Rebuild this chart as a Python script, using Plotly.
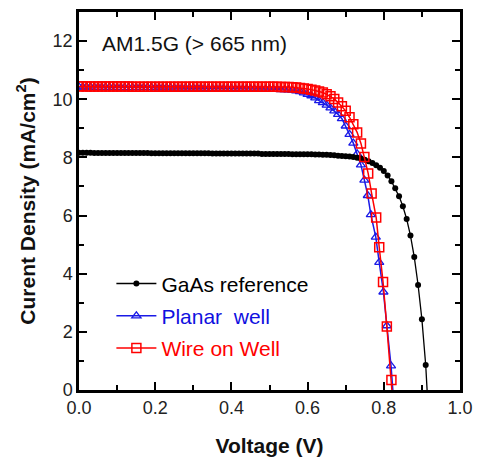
import plotly.graph_objects as go

# GaAs reference cell
v_ref = [0.00, 0.01, 0.02, 0.03, 0.04, 0.05, 0.06, 0.07, 0.08, 0.09,
         0.10, 0.11, 0.12, 0.13, 0.14, 0.15, 0.16, 0.17, 0.18, 0.19,
         0.20, 0.21, 0.22, 0.23, 0.24, 0.25, 0.26, 0.27, 0.28, 0.29,
         0.30, 0.31, 0.32, 0.33, 0.34, 0.35, 0.36, 0.37, 0.38, 0.39,
         0.40, 0.41, 0.42, 0.43, 0.44, 0.45, 0.46, 0.47, 0.48, 0.49,
         0.50, 0.51, 0.52, 0.53, 0.54, 0.55, 0.56, 0.57, 0.58, 0.59,
         0.60, 0.61, 0.62, 0.63, 0.64, 0.65, 0.66, 0.67, 0.68, 0.69,
         0.70, 0.71, 0.72, 0.73, 0.74, 0.75, 0.76, 0.77, 0.78, 0.79,
         0.80, 0.81, 0.82, 0.83, 0.84, 0.85, 0.86, 0.87, 0.88, 0.89,
         0.90, 0.91, 0.92]
j_ref = [8.16, 8.16, 8.16, 8.16, 8.15, 8.15, 8.15, 8.15, 8.15, 8.15,
         8.15, 8.15, 8.15, 8.15, 8.15, 8.15, 8.15, 8.15, 8.15, 8.14,
         8.14, 8.14, 8.14, 8.14, 8.14, 8.14, 8.14, 8.14, 8.14, 8.14,
         8.14, 8.14, 8.14, 8.14, 8.14, 8.13, 8.13, 8.13, 8.13, 8.13,
         8.13, 8.13, 8.13, 8.13, 8.13, 8.13, 8.13, 8.13, 8.12, 8.12,
         8.12, 8.12, 8.12, 8.12, 8.12, 8.12, 8.11, 8.11, 8.11, 8.11,
         8.11, 8.11, 8.10, 8.10, 8.09, 8.09, 8.08, 8.07, 8.06, 8.05,
         8.04, 8.03, 8.01, 7.99, 7.96, 7.92, 7.87, 7.81, 7.73, 7.64,
         7.53, 7.38, 7.18, 6.94, 6.66, 6.32, 5.88, 5.31, 4.57, 3.61,
         2.43, 0.86, -1.50]

# Planar quantum-well cell
v_pw = [0.00, 0.01, 0.02, 0.03, 0.04, 0.05, 0.06, 0.07, 0.08, 0.09,
        0.10, 0.11, 0.12, 0.13, 0.14, 0.15, 0.16, 0.17, 0.18, 0.19,
        0.20, 0.21, 0.22, 0.23, 0.24, 0.25, 0.26, 0.27, 0.28, 0.29,
        0.30, 0.31, 0.32, 0.33, 0.34, 0.35, 0.36, 0.37, 0.38, 0.39,
        0.40, 0.41, 0.42, 0.43, 0.44, 0.45, 0.46, 0.47, 0.48, 0.49,
        0.50, 0.51, 0.52, 0.53, 0.54, 0.55, 0.56, 0.57, 0.58, 0.59,
        0.60, 0.61, 0.62, 0.63, 0.64, 0.65, 0.66, 0.67, 0.68, 0.69,
        0.70, 0.71, 0.72, 0.73, 0.74, 0.749, 0.758, 0.766, 0.779, 0.788,
        0.799, 0.808, 0.819, 0.826]
j_pw = [10.42, 10.42, 10.42, 10.42, 10.41, 10.41, 10.41, 10.41, 10.41, 10.41,
        10.40, 10.40, 10.40, 10.40, 10.40, 10.40, 10.40, 10.40, 10.40, 10.40,
        10.39, 10.39, 10.39, 10.39, 10.39, 10.38, 10.38, 10.38, 10.38, 10.38,
        10.38, 10.38, 10.38, 10.37, 10.37, 10.37, 10.37, 10.37, 10.37, 10.37,
        10.37, 10.36, 10.36, 10.36, 10.36, 10.36, 10.36, 10.35, 10.35, 10.35,
        10.35, 10.34, 10.34, 10.33, 10.33, 10.32, 10.31, 10.29, 10.26, 10.22,
        10.17, 10.12, 10.05, 9.95, 9.88, 9.80, 9.70, 9.60, 9.48, 9.33,
        9.08, 8.79, 8.49, 8.12, 7.74, 7.22, 6.69, 6.03, 5.26, 4.39,
        3.37, 2.21, 0.83, -0.40]

# Nanowire-on-well cell
v_ww = [0.00, 0.01, 0.02, 0.03, 0.04, 0.05, 0.06, 0.07, 0.08, 0.09,
        0.10, 0.11, 0.12, 0.13, 0.14, 0.15, 0.16, 0.17, 0.18, 0.19,
        0.20, 0.21, 0.22, 0.23, 0.24, 0.25, 0.26, 0.27, 0.28, 0.29,
        0.30, 0.31, 0.32, 0.33, 0.34, 0.35, 0.36, 0.37, 0.38, 0.39,
        0.40, 0.41, 0.42, 0.43, 0.44, 0.45, 0.46, 0.47, 0.48, 0.49,
        0.50, 0.51, 0.52, 0.53, 0.54, 0.55, 0.56, 0.57, 0.58, 0.59,
        0.60, 0.61, 0.62, 0.63, 0.64, 0.65, 0.66, 0.67, 0.68, 0.69,
        0.70, 0.71, 0.72, 0.73, 0.74, 0.749, 0.759, 0.768, 0.780, 0.788,
        0.798, 0.808, 0.820, 0.823]
j_ww = [10.44, 10.45, 10.44, 10.44, 10.44, 10.44, 10.44, 10.44, 10.44, 10.44,
        10.44, 10.44, 10.44, 10.44, 10.43, 10.43, 10.43, 10.43, 10.43, 10.43,
        10.43, 10.43, 10.43, 10.43, 10.43, 10.43, 10.43, 10.43, 10.43, 10.43,
        10.43, 10.43, 10.43, 10.43, 10.43, 10.43, 10.43, 10.43, 10.43, 10.43,
        10.43, 10.43, 10.43, 10.43, 10.43, 10.43, 10.43, 10.43, 10.43, 10.43,
        10.43, 10.43, 10.43, 10.42, 10.42, 10.42, 10.41, 10.40, 10.39, 10.37,
        10.35, 10.33, 10.30, 10.27, 10.23, 10.17, 10.10, 10.01, 9.89, 9.76,
        9.60, 9.38, 9.14, 8.86, 8.48, 8.01, 7.45, 6.76, 5.93, 4.91,
        3.71, 2.18, 0.34, -0.30]

FONT = "Liberation Sans, Arial, sans-serif"

fig = go.Figure()

fig.add_trace(go.Scatter(
    x=v_pw, y=j_pw, mode="lines+markers", legendrank=2, legendgroup="b",
    name='<span style="color:#1010e0">Planar  well</span>',
    line=dict(color="#1a1ae6", width=1.5),
    marker=dict(symbol="triangle-up-open", size=8, color="#1a1ae6",
                line=dict(width=1.3)),
))
fig.add_trace(go.Scatter(
    x=v_ref, y=j_ref, mode="lines+markers", legendrank=1, legendgroup="a",
    name="GaAs reference",
    line=dict(color="black", width=1.3),
    marker=dict(symbol="circle", size=6, color="black"),
))
fig.add_trace(go.Scatter(
    x=v_ww, y=j_ww, mode="lines+markers", legendrank=3, legendgroup="c",
    name='<span style="color:#ff0000">Wire on Well</span>',
    line=dict(color="#ff0000", width=1.5),
    marker=dict(symbol="square-open", size=9, color="#ff0000",
                line=dict(width=1.5)),
))

fig.add_annotation(
    x=0.055, y=11.9, xref="x", yref="y", xanchor="left", yanchor="middle",
    text="AM1.5G (> 665 nm)", showarrow=False,
    font=dict(family=FONT, size=21, color="#111"),
)

axis_common = dict(
    showline=True, linecolor="black", linewidth=2.5, mirror="ticks",
    ticks="inside", ticklen=8, tickwidth=2, tickcolor="black",
    showgrid=False, zeroline=False, automargin=False,
    tickfont=dict(family=FONT, size=18, color="#222"),
)

fig.update_xaxes(
    range=[0, 1.0], dtick=0.2, tickformat=".1f",
    minor=dict(ticks="inside", dtick=0.1, ticklen=5, tickwidth=2,
               tickcolor="black"),
    title=dict(text="<b>Voltage (V)</b>", standoff=21,
               font=dict(family=FONT, size=21, color="#111")),
    **axis_common,
)
fig.update_yaxes(
    range=[0, 13], dtick=2,
    minor=dict(ticks="inside", dtick=1, ticklen=5, tickwidth=2,
               tickcolor="black"),
    title=dict(text="<b>Curent Density (mA/cm<sup>2</sup>)</b>", standoff=12,
               font=dict(family=FONT, size=21, color="#111")),
    **axis_common,
)

fig.update_layout(
    width=477, height=459,
    margin=dict(l=79, r=17, t=12, b=69),
    paper_bgcolor="white", plot_bgcolor="white",
    showlegend=True,
    legend=dict(
        x=0.085, y=0.335, xanchor="left", yanchor="top",
        bgcolor="rgba(0,0,0,0)", borderwidth=0,
        font=dict(family=FONT, size=21, color="black"),
        tracegroupgap=2, itemwidth=40,
    ),
)

fig.write_html("out.html")
